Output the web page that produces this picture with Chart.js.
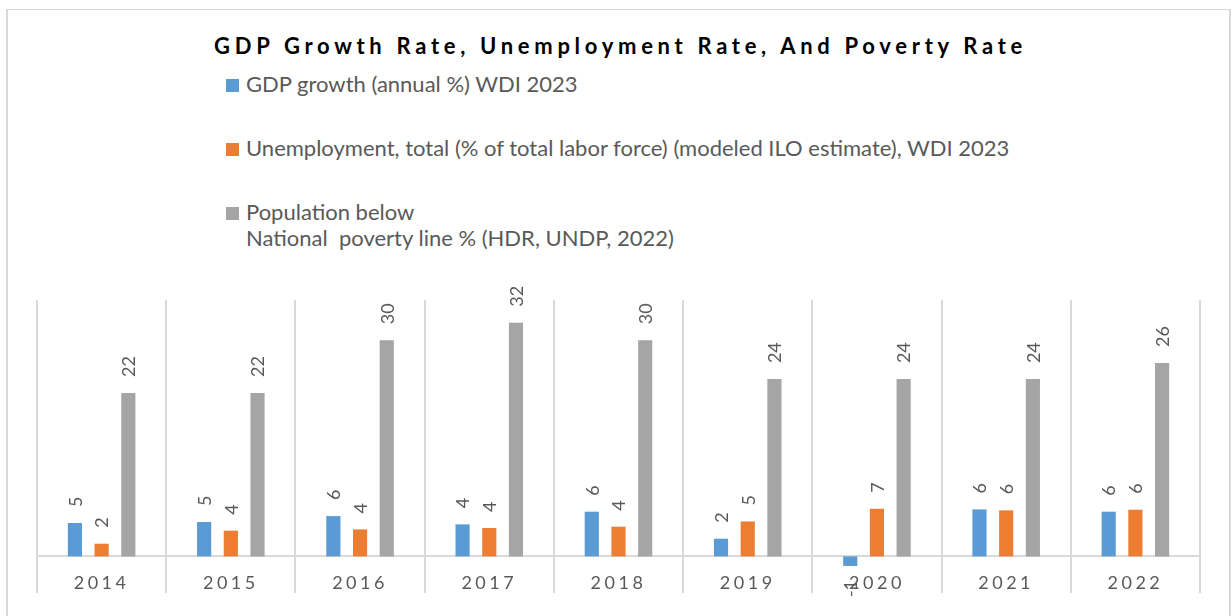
<!DOCTYPE html>
<html>
<head>
<meta charset="utf-8">
<script src="https://cdn.jsdelivr.net/npm/chart.js@4/dist/chart.umd.min.js"></script>
<style>
    html, body { margin: 0; padding: 0; background: #fff; }
    #wrap { position: relative; width: 1231px; height: 616px; overflow: hidden; }
    #frame {
        position: absolute; left: 6px; top: 9px; width: 1221px; height: 640px;
        border: 1px solid #d9d9d9; border-left-width: 2px; border-right-width: 2px; border-bottom: none;
    }
    #title {
        position: absolute; left: 8px; width: 1225px; top: 33px;
        text-align: center; font: bold 22px/26px Lato, sans-serif; letter-spacing: 4.7px; color: #000;
    }
    .leg { position: absolute; left: 226px; font: 22px/26px Lato, sans-serif; color: #595959; white-space: pre; }
    .leg i { position: absolute; left: 0; top: 8px; width: 13px; height: 13px; }
    .leg span { display: block; margin-left: 20px; }
    canvas { position: absolute; left: 0; top: 0; }
</style>
</head>
<body>
<div id="wrap">
    <div id="frame"></div>
    <div id="title">GDP Growth Rate, Unemployment Rate, And Poverty Rate</div>
    <div id="legend"></div>
    <canvas id="chart" width="1231" height="616"></canvas>
</div>
<script>
const years = ['2014', '2015', '2016', '2017', '2018', '2019', '2020', '2021', '2022'];

const gdpGrowth    = [4.56, 4.69, 5.5, 4.37, 6.1, 2.41, -1.31, 6.41, 6.1];
const unemployment = [1.73, 3.51, 3.68, 3.87, 4.05, 4.77, 6.5, 6.28, 6.37];
const poverty      = [22.3, 22.3, 29.5, 31.9, 29.5, 24.2, 24.2, 24.2, 26.4];

const seriesNames = [
    'GDP growth (annual %) WDI 2023',
    'Unemployment, total (% of total labor force) (modeled ILO estimate), WDI 2023',
    'Population below\nNational  poverty line % (HDR, UNDP, 2022)'
];
const seriesColors = ['#5b9bd5', '#ed7d31', '#a5a5a5'];

const TEXT_GREY = '#595959';
const GRID_GREY = '#d9d9d9';

// legend rows, one under another
function buildLegend() {
    const box = document.getElementById('legend');
    const rowTops = [71, 135, 199];
    seriesNames.forEach((name, i) => {
        const row = document.createElement('div');
        row.className = 'leg';
        row.style.top = rowTops[i] + 'px';
        const sw = document.createElement('i');
        sw.style.background = seriesColors[i];
        const txt = document.createElement('span');
        txt.textContent = name;
        row.appendChild(sw);
        row.appendChild(txt);
        box.appendChild(row);
    });
}

// rotated value labels at the end of each bar
const barValueLabels = {
    id: 'barValueLabels',
    afterDatasetsDraw(chart) {
        const ctx = chart.ctx;
        ctx.save();
        ctx.letterSpacing = '0px';
        ctx.font = '18px Lato, sans-serif';
        ctx.fillStyle = TEXT_GREY;
        ctx.textBaseline = 'middle';
        chart.data.datasets.forEach((ds, di) => {
            const meta = chart.getDatasetMeta(di);
            meta.data.forEach((bar, i) => {
                const v = ds.data[i];
                const neg = v < 0;
                ctx.save();
                ctx.translate(bar.x, neg ? bar.y + 14 : bar.y - 16);
                ctx.rotate(-Math.PI / 2);
                ctx.textAlign = neg ? 'right' : 'left';
                ctx.fillText(String(Math.round(v)), 0, 1);
                ctx.restore();
            });
        });
        ctx.restore();
    }
};

// spaced-out year labels on the category axis
const axisLetterSpacing = {
    id: 'axisLetterSpacing',
    beforeDraw(chart) { chart.ctx.letterSpacing = '3.5px'; },
    beforeDatasetsDraw(chart) { chart.ctx.letterSpacing = '0px'; }
};

function initChart() {
    const ctx = document.getElementById('chart').getContext('2d');
    return new Chart(ctx, {
        type: 'bar',
        data: {
            labels: years,
            datasets: [gdpGrowth, unemployment, poverty].map((values, i) => ({
                label: seriesNames[i],
                data: values,
                backgroundColor: seriesColors[i],
                categoryPercentage: 0.62,
                barPercentage: 0.53
            }))
        },
        options: {
            responsive: false,
            animation: false,
            layout: { padding: { left: 37, right: 31, top: 300, bottom: 23 } },
            plugins: {
                legend: { display: false },
                title: { display: false },
                tooltip: { enabled: false }
            },
            scales: {
                x: {
                    position: { y: 0 },
                    grid: { color: GRID_GREY, lineWidth: 2, drawTicks: false, offset: true },
                    border: { color: GRID_GREY, width: 2 },
                    ticks: {
                        color: TEXT_GREY,
                        font: { family: 'Lato, sans-serif', size: 18 },
                        padding: 16,
                        maxRotation: 0
                    }
                },
                y: {
                    display: false,
                    min: -5,
                    max: 35
                }
            }
        },
        plugins: [axisLetterSpacing, barValueLabels]
    });
}

buildLegend();
initChart();
</script>
</body>
</html>
